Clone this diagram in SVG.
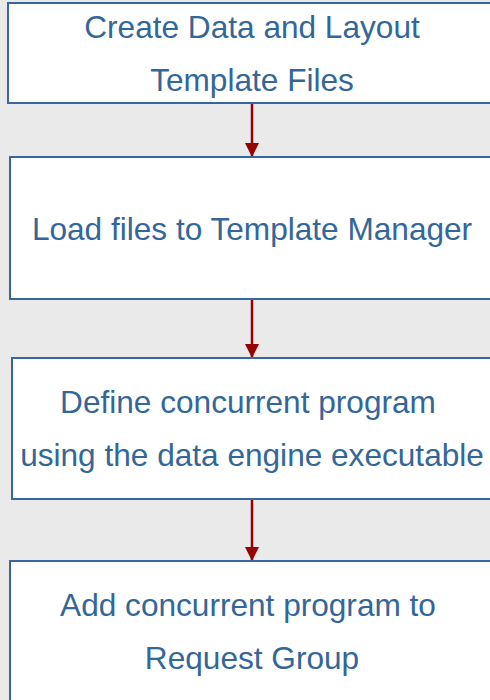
<svg xmlns="http://www.w3.org/2000/svg" width="490" height="700" viewBox="0 0 490 700">
<defs>
<style>
.box{fill:#ffffff;stroke:#35689e;stroke-width:2}
.t{font-family:"Liberation Sans",Arial,sans-serif;font-size:31.6px;fill:#336699;text-anchor:middle}
.c{stroke:#990000;stroke-width:2.5;fill:none}
</style>
<marker id="arr" markerWidth="16" markerHeight="14" refX="14" refY="7" orient="auto" markerUnits="userSpaceOnUse" viewBox="0 0 16 14">
<path d="M0,0 L14,7 L0,14 z" fill="#990000"/>
</marker>
</defs>
<rect x="0" y="0" width="490" height="700" fill="#eaeaea"/>
<g id="connectors">
<line class="c" x1="252" y1="103" x2="252" y2="157" marker-end="url(#arr)"/>
<line class="c" x1="252" y1="299" x2="252" y2="358" marker-end="url(#arr)"/>
<line class="c" x1="252" y1="499" x2="252" y2="561" marker-end="url(#arr)"/>
</g>
<g id="n1">
<rect class="box" x="8" y="3" width="490" height="100"/>
<text class="t" x="252" y="38">Create Data and Layout</text>
<text class="t" x="252" y="91">Template Files</text>
</g>
<g id="n2">
<rect class="box" x="10" y="157" width="490" height="142"/>
<text class="t" x="252" y="240">Load files to Template Manager</text>
</g>
<g id="n3">
<rect class="box" x="12" y="358" width="490" height="141"/>
<text class="t" x="248" y="413">Define concurrent program</text>
<text class="t" x="252" y="466">using the data engine executable</text>
</g>
<g id="n4">
<rect class="box" x="10" y="561" width="490" height="150"/>
<text class="t" x="248" y="616">Add concurrent program to</text>
<text class="t" x="252" y="669">Request Group</text>
</g>
</svg>
